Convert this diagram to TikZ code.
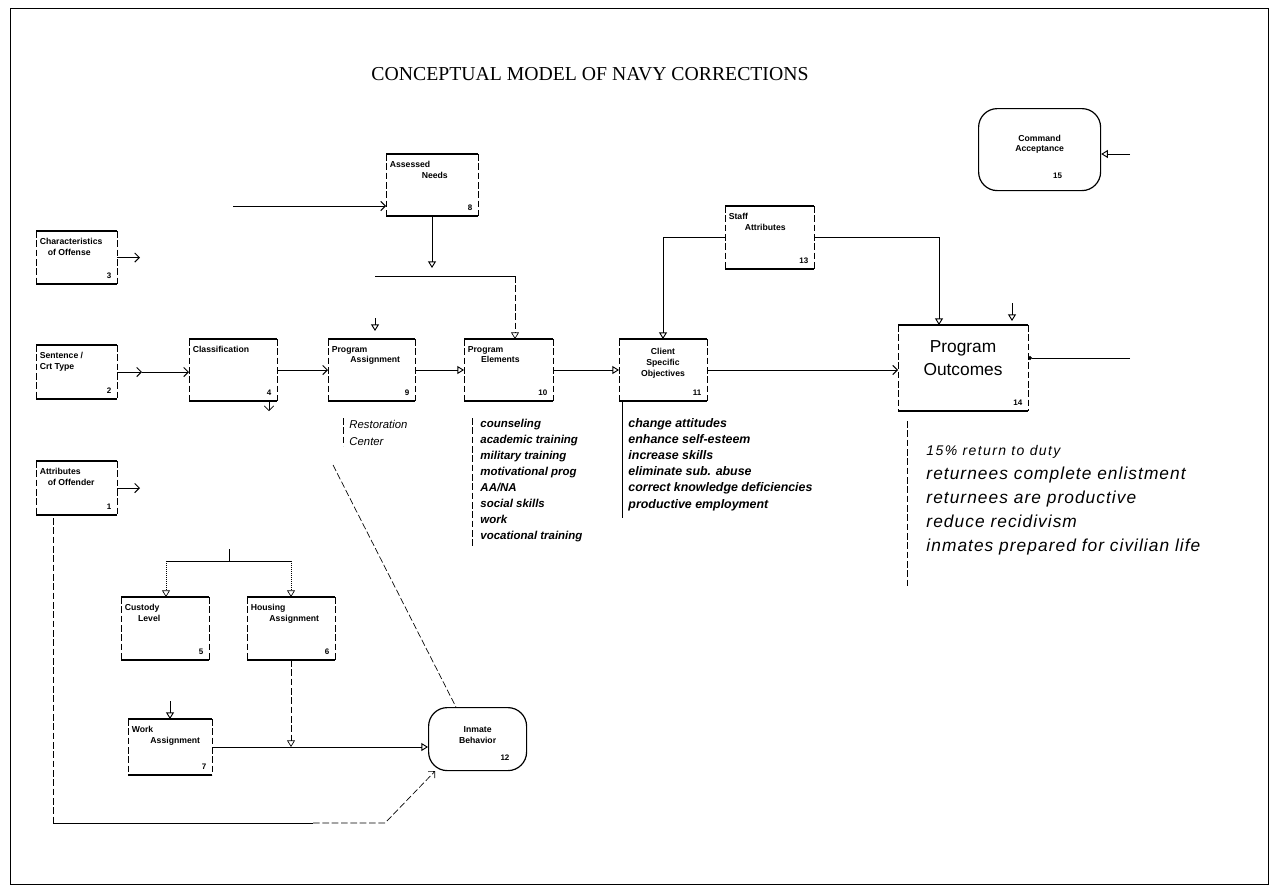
\documentclass[tikz,border=0pt]{standalone}
\usepackage{fontspec}
\setmainfont{Liberation Serif}
\setsansfont{Liberation Sans}
\usetikzlibrary{arrows.meta,calc}
\tikzset{
  ibx/.style={draw=none, inner sep=0pt, outer sep=0pt},
  itxt/.style={font=\sffamily\bfseries\fontsize{6.5}{8}\selectfont, align=left, inner sep=1pt},
  inum/.style={font=\sffamily\bfseries\fontsize{6}{6}\selectfont, inner sep=1pt},
  chev/.style={-{Straight Barb[length=3.5pt,width=7pt]}},
  tri/.style={-{Triangle[open,length=5pt,width=6pt]}},
  plist/.style={font=\sffamily\bfseries\itshape\fontsize{8.6}{10}\selectfont, inner sep=0pt, anchor=base west},
  qlist/.style={font=\sffamily\bfseries\itshape\fontsize{9.3}{10}\selectfont, inner sep=0pt, anchor=base west},
  olist/.style={font=\sffamily\itshape\fontsize{13}{16}\selectfont\addfontfeature{LetterSpace=6}, inner sep=0pt, anchor=base west},
  stad/.style={draw, line width=0.9pt, rounded corners=14pt, inner sep=0pt, anchor=north west},
  faint/.style={line width=0.5pt, dash pattern=on 5pt off 2pt}
}
\newcommand\ibox[7]{%
  \node[ibx, minimum width=#4*0.75pt, minimum height=#5*0.75pt, anchor=north west] (#1) at (#2,#3) {};
  \draw[line width=1pt] (#1.north west) -- (#1.north east) (#1.south west) -- (#1.south east);
  \draw[faint] (#1.north west) -- (#1.south west) (#1.north east) -- (#1.south east);
  \node[itxt, anchor=north west] (#1t) at ([shift={(1.5pt,-4pt)}]#1.north west) {#6};
  \node[inum, anchor=south east] (#1n) at ([shift={(-3pt,3pt)}]#1.south east) {#7};
}
\begin{document}
\begin{tikzpicture}[x=0.75pt,y=-0.75pt,line width=0.7pt]
\useasboundingbox (0,0) rectangle (1280,893);
\draw[line width=0.6pt] (10,8) rectangle (1268,884);

\node[font=\fontsize{14.8}{17}\selectfont] (title) at (590,74) {CONCEPTUAL MODEL OF NAVY CORRECTIONS};

% boxes
\ibox{char}{36}{231}{81}{53}{Characteristics\\\hspace{6pt}of Offense}{3}
\ibox{sent}{36}{345}{81}{54}{Sentence /\\Crt Type}{2}
\ibox{attr}{36}{461}{81}{54}{Attributes\\\hspace{6pt}of Offender}{1}
\ibox{clas}{189}{339}{88}{62}{Classification}{4}
\ibox{pasg}{328}{339}{87}{62}{Program\\\hspace{14pt}Assignment}{9}
\ibox{pelem}{464}{339}{89}{62}{Program\\\hspace{10pt}Elements}{10}
\ibox{cso}{619}{339}{88}{62}{}{11}
\node[itxt, align=center] (csoc) at ([yshift=5pt]cso.center) {Client\\Specific\\Objectives};
\ibox{asn}{386}{154}{92}{62}{Assessed\\\hspace{24pt}Needs}{8}
\ibox{staff}{725}{206}{89}{63}{Staff\\\hspace{12pt}Attributes}{13}
\ibox{pout}{898}{325}{130}{86}{}{14}
\node[font=\sffamily\fontsize{13}{17}\selectfont, align=center] (poutc) at (963,358) {Program\\Outcomes};
\ibox{cust}{121}{597}{88}{63}{Custody\\\hspace{10pt}Level}{5}
\ibox{hous}{247}{597}{88}{63}{Housing\\\hspace{14pt}Assignment}{6}
\ibox{wrk}{128}{719}{84}{56}{Work\\\hspace{14pt}Assignment}{7}

% stadiums
\node[stad, minimum width=122*0.75pt, minimum height=82*0.75pt] (cmd) at (978,108) {};
\node[itxt, align=center] (cmdt) at ([yshift=4pt]cmd.center) {Command\\Acceptance};
\node[inum, anchor=south east] (cmdn) at ([shift={(-28pt,8pt)}]cmd.south east) {15};
\node[stad, minimum width=98*0.75pt, minimum height=63*0.75pt] (ib) at (428,707) {};
\node[itxt, align=center] (ibt) at ([yshift=3pt]ib.center) {Inmate\\Behavior};
\node[inum, anchor=south east] (ibn) at ([shift={(-12pt,7pt)}]ib.south east) {12};

% inputs on the left
\coordinate (charE) at (140,257.5);
\draw[chev] (char.east) -- (charE);
\coordinate (mrg) at (142,372);
\draw[chev] (sent.east) -- (mrg);
\draw[chev] (mrg) -- (mrg -| clas.west);
\coordinate (attrE) at (140,488);
\draw[chev] (attr.east) -- (attrE);

% main row
\draw[chev] (clas.east) -- (pasg.west);
\draw[tri] (pasg.east) -- (pelem.west);
\draw[tri] (pelem.east) -- (cso.west);
\draw[chev] (cso.east) -- (cso.east -| pout.west);
\coordinate (cm1) at (269,402);
\coordinate (cm2) at (269,411);
\draw[chev, line width=0.5pt] (cm1) -- (cm2);

% assessed needs
\coordinate (anIn) at (233,206);
\draw[chev] (anIn) -- (anIn -| asn.west);
\coordinate (anj) at (432,268);
\draw[tri] (asn.south) -- (anj);
\coordinate (barL) at (375,276);
\coordinate (barR) at (515,276);
\draw (barL) -- (barR);
\draw[faint, tri] (barR) -- (barR |- pelem.north);
\coordinate (paS1) at (375,318);
\coordinate (paS2) at (375,331);
\draw[tri] (paS1) -- (paS2);

% staff attributes
\coordinate (poA) at (939,325);
\draw[tri] (staff.west) -| (cso.north);
\draw[tri] (staff.east) -| (poA);
\coordinate (poB1) at (1012,303);
\coordinate (poB2) at (1012,321);
\draw[tri] (poB1) -- (poB2);

% right inputs
\coordinate (poR) at (1130,358);
\draw[-{Circle[length=3pt]}] (poR) -- (poR -| pout.east);
\coordinate (cmR) at (1130,154);
\draw[tri] (cmR) -- (cmR -| cmd.east);

% annotation lists
\coordinate (rv1) at (343,418); \coordinate (rv2) at (343,446);
\draw[faint] (rv1) -- (rv2);
\node[plist, font=\sffamily\itshape\fontsize{8.5}{10}\selectfont] (rc1) at (349,428) {Restoration};
\node[plist, font=\sffamily\itshape\fontsize{8.5}{10}\selectfont] (rc2) at (349,445) {Center};

\coordinate (pv1) at (472,418); \coordinate (pv2) at (472,548);
\draw[faint] (pv1) -- (pv2);
\foreach \t [count=\i] in {counseling, academic training, military training, motivational prog, AA/NA, social skills, work, vocational training}
  \node[plist] (pe\i) at (480,{427+16*(\i-1)}) {\t};

\coordinate (ov1) at (622,401); \coordinate (ov2) at (622,518);
\draw[line width=0.6pt] (ov1) -- (ov2);
\foreach \t [count=\i] in {change attitudes, enhance self-esteem, increase skills, eliminate sub. abuse, correct knowledge deficiencies, productive employment}
  \node[qlist] (ob\i) at (628,{427+16.2*(\i-1)}) {\t};

\coordinate (uv1) at (907,421); \coordinate (uv2) at (907,588);
\draw[faint] (uv1) -- (uv2);
\node[olist, font=\sffamily\itshape\fontsize{10.5}{12}\selectfont\addfontfeature{LetterSpace=10}] (oc0) at (926,455) {15\% return to duty};
\foreach \t [count=\i] in {returnees complete enlistment, returnees are productive, reduce recidivism, inmates prepared for civilian life}
  \node[olist] (oc\i) at (926,{455+24*\i}) {\t};

% lower section
\coordinate (lbL) at (166,561); \coordinate (lbR) at (291,561);
\coordinate (lbM1) at (229,549); \coordinate (lbM2) at (229,561);
\draw (lbL) -- (lbR);
\draw (lbM1) -- (lbM2);
\draw[densely dotted, line width=0.5pt, tri] (lbL) -- (lbL |- cust.north);
\draw[densely dotted, line width=0.5pt, tri] (lbR) -- (lbR |- hous.north);
\coordinate (wS) at (170,701);
\draw[tri] (wS) -- (wS |- wrk.north);
\draw[faint, tri] (hous.south) -- (hous.south |- wrk.east);
\draw[tri] (wrk.east) -- (wrk.east -| ib.west);

\coordinate (dg) at (333,465);
\draw[faint] (dg) -- (ib.124);

\coordinate (lp0) at (53,518); \coordinate (lp1) at (53,823);
\coordinate (lp2) at (313,823); \coordinate (lp3) at (385,823);
\draw[faint] (lp0) -- (lp1);
\draw (lp1) -- (lp2);
\draw[faint, chev] (lp2) -- (lp3) -- (ib.217);
\end{tikzpicture}
\end{document}
